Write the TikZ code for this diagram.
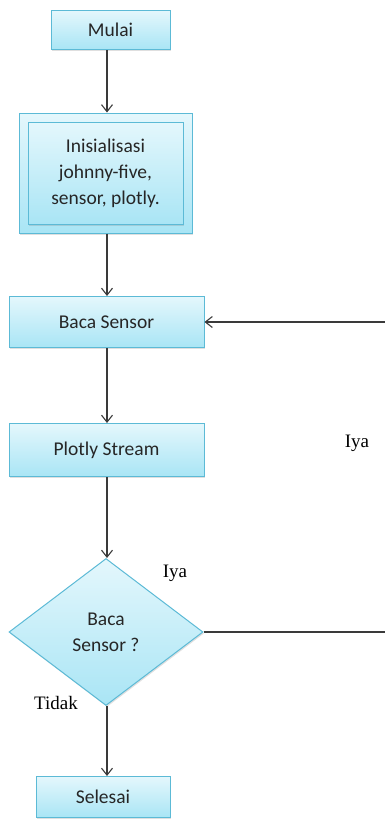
\documentclass[tikz,border=0pt]{standalone}
\usepackage{fontspec}
\setmainfont{Carlito}
\newfontfamily\labelfont{Liberation Serif}
\usetikzlibrary{shapes.geometric,shadows,arrows.meta}
\definecolor{boxtop}{HTML}{E4F7FC}
\definecolor{boxbot}{HTML}{A9E5F5}
\definecolor{boxline}{HTML}{5CBAD6}
\definecolor{txt}{HTML}{262626}
\definecolor{wire}{HTML}{3A3A3A}

\begin{document}
\begin{tikzpicture}[x=1pt, y=-1pt]
	\tikzstyle{block}    = [rectangle, draw=boxline, line width=1pt, top color=boxtop, bottom color=boxbot, text=txt, font=\fontsize{19.5}{26}\selectfont, align=center, inner sep=0pt, drop shadow={shadow xshift=1pt, shadow yshift=-1.5pt, opacity=0.25}]
	\tikzstyle{decision} = [block, diamond]
	\tikzstyle{answer}   = [font=\labelfont\fontsize{19}{22}\selectfont, text=black]
	\tikzstyle{flow}     = [draw=wire, line width=1.1pt, -{Straight Barb[length=7pt, width=11pt]}]

	\useasboundingbox (0,0) rectangle (385,820);
	\coordinate (spine) at (107,0);

	\foreach \name/\x/\y/\w/\h/\txt in {mulai/110.5/30/119/39/Mulai, baca/106.5/322/195/51/Baca Sensor, plotly/106.5/450/195/53/Plotly Stream, selesai/103/797/134/41/Selesai}
		\node[block, minimum width=\w, minimum height=\h] (\name) at (\x, \y) {\txt};

	\node[block, minimum width=173, minimum height=120] (init) at (105.5, 173) {};
	\node[block, minimum width=155, minimum height=102] (initin) at (init.center) {Inisialisasi\\johnny-five,\\sensor, plotly.};
	\node[decision, minimum width=194, minimum height=147] (cek) at (106, 632) {Baca\\Sensor ?};

	\foreach \from/\to in {mulai/init, init/baca, baca/plotly, plotly/cek, cek/selesai}
		\path[flow] (\from.south -| spine) -- (\to.north -| spine);

	\coordinate (loopin) at (385, 322);
	\coordinate (loopout) at (385, 632);
	\path[flow] (loopin) -- (baca.east);
	\draw[wire, line width=1.1pt] (cek.east) -- (loopout);

	\node[answer] (iyaloop) at (357, 443) {Iya};
	\node[answer] (iyacek) at (175, 573) {Iya};
	\node[answer] (tidak) at (56, 703) {Tidak};
\end{tikzpicture}
\end{document}
